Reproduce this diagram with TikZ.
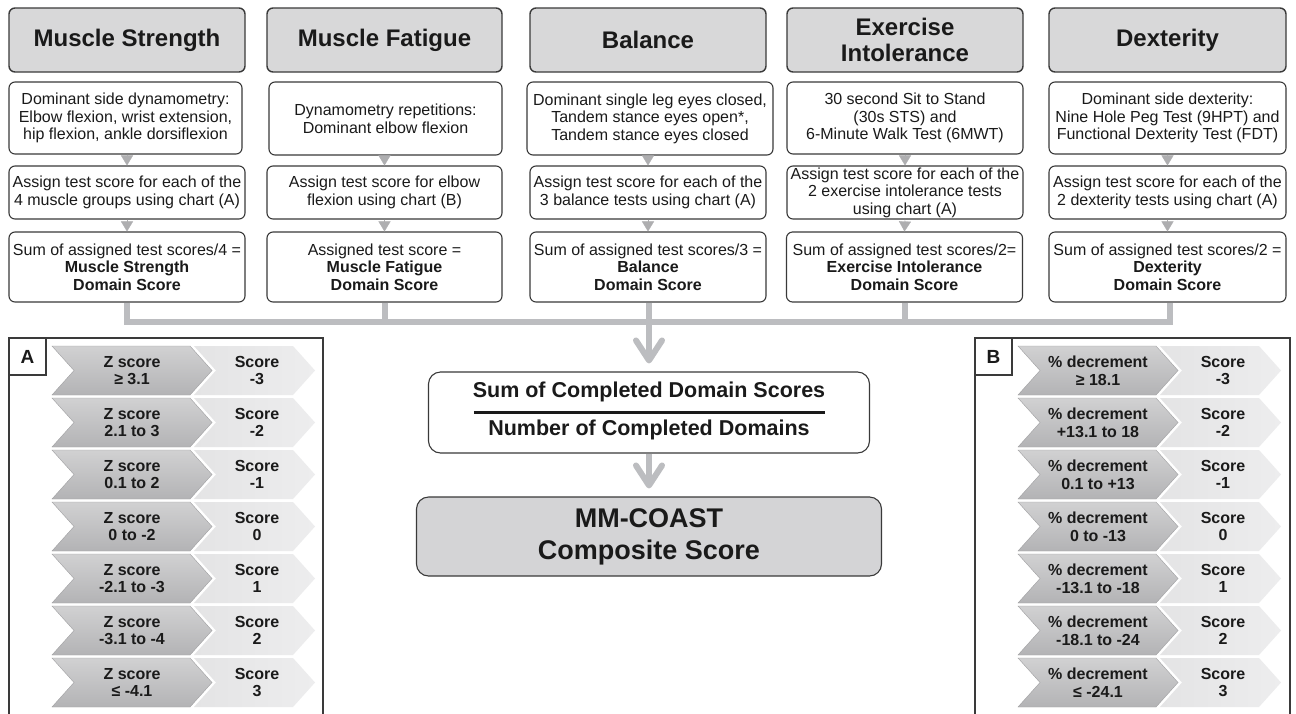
\documentclass[tikz,border=0pt]{standalone}
\usepackage{fontspec}
\setmainfont{Liberation Sans}
\usetikzlibrary{arrows.meta,calc}
\definecolor{bd}{HTML}{3A3A3A}
\definecolor{hfill}{HTML}{D8D8D9}
\definecolor{mmfill}{HTML}{D4D4D6}
\definecolor{connc}{HTML}{BCBDC0}
\definecolor{tric}{HTML}{AEAEB0}
\definecolor{txt}{HTML}{1A1A1A}
\definecolor{dkA}{HTML}{D1D1D2}
\definecolor{dkB}{HTML}{B3B3B5}
\definecolor{dkE}{HTML}{A0A0A2}
\definecolor{ltA}{HTML}{E4E4E5}
\definecolor{ltB}{HTML}{EDEDEE}
\newcommand\bodyf{\fontsize{16}{17.6}\selectfont}
\newcommand\hdrf{\fontsize{24}{26}\selectfont\bfseries}
\newcommand\chf{\fontsize{16}{17.6}\selectfont\bfseries}
\newcommand\chevrow[6]{%
  \path[left color=ltA, right color=ltB] (#1+142,#2) -- (#1+241,#2) -- (#1+263,#2+24.5) -- (#1+241,#2+49) -- (#1+142,#2+49) -- (#1+164,#2+24.5) -- cycle;
  \path[top color=dkA, bottom color=dkB, draw=dkE, line width=0.4pt] (#1,#2) -- (#1+138,#2) -- (#1+160,#2+24.5) -- (#1+138,#2+49) -- (#1,#2+49) -- (#1+22,#2+24.5) -- cycle;
  \node[chtxt] (#3z) at (#1+80,#2+24.5) {#4\\#5};
  \node[chtxt] (#3s) at (#1+205,#2+24.5) {Score\\#6};
}
\begin{document}
\begin{tikzpicture}[x=1pt,y=-1pt,
  hdr/.style={draw=bd, fill=hfill, rounded corners=6pt, line width=1.4pt, font=\hdrf, align=center, inner sep=0pt, text=txt, minimum height=64pt},
  box/.style={draw=bd, fill=white, rounded corners=6pt, line width=1.1pt, font=\bodyf, align=center, inner sep=0pt, text=txt},
  tricon/.style={draw=tric, line width=0.3pt, -{Triangle[length=10pt,width=12pt]}, fill=tric},
  conn/.style={draw=connc, line width=6pt, line join=miter},
  bigarr/.style={draw=connc, line width=6pt, -{Straight Barb[length=20pt,width=26pt,round]}, shorten >=8pt},
  chtxt/.style={font=\chf, align=center, inner sep=0pt, text=txt},
  sumtxt/.style={font=\fontsize{21.5}{24}\selectfont\bfseries, inner sep=0pt, text=txt},
  frame/.style={draw=bd, line width=1.1pt},
  labbox/.style={draw=bd, line width=1.1pt, fill=white, minimum width=37pt, minimum height=37pt, inner sep=0pt, font=\fontsize{19}{20}\selectfont\bfseries, text=txt}
]
\useasboundingbox (0,0) rectangle (1296,713);
\fill[white] (0,0) rectangle (1296,713);
% headers
\node[hdr, minimum width=236pt] (h1) at (127,40) {Muscle Strength};
\node[hdr, minimum width=235pt] (h2) at (384.5,40) {Muscle Fatigue};
\node[hdr, minimum width=236pt] (h3) at (648,40) {Balance};
\node[hdr, minimum width=236pt] (h4) at (905,40) {Exercise\\Intolerance};
\node[hdr, minimum width=237pt] (h5) at (1167.5,40) {Dexterity};
% descriptions
\node[box, minimum width=233pt, minimum height=72pt] (d1) at (125.5,118) {Dominant side dynamometry:\\Elbow flexion, wrist extension,\\hip flexion, ankle dorsiflexion};
\node[box, minimum width=233pt, minimum height=73pt] (d2) at (385.5,118.5) {Dynamometry repetitions:\\Dominant elbow flexion};
\node[box, minimum width=246pt, minimum height=73pt] (d3) at (650,118.5) {Dominant single leg eyes closed,\\Tandem stance eyes open*,\\Tandem stance eyes closed};
\node[box, minimum width=236pt, minimum height=72pt] (d4) at (905,118) {30 second Sit to Stand\\(30s STS) and\\6-Minute Walk Test (6MWT)};
\node[box, minimum width=237pt, minimum height=72pt] (d5) at (1167.5,118) {Dominant side dexterity:\\Nine Hole Peg Test (9HPT) and\\Functional Dexterity Test (FDT)};
% assign
\node[box, minimum width=236pt, minimum height=53pt] (a1) at (127,192.5) {Assign test score for each of the\\4 muscle groups using chart (A)};
\node[box, minimum width=235pt, minimum height=53pt] (a2) at (384.5,192.5) {Assign test score for elbow\\flexion using chart (B)};
\node[box, minimum width=236pt, minimum height=53pt] (a3) at (648,192.5) {Assign test score for each of the\\3 balance tests using chart (A)};
\node[box, minimum width=236pt, minimum height=53pt] (a4) at (905,192.5) {Assign test score for each of the\\2 exercise intolerance tests\\using chart (A)};
\node[box, minimum width=237pt, minimum height=53pt] (a5) at (1167.5,192.5) {Assign test score for each of the\\2 dexterity tests using chart (A)};
% sums
\node[box, minimum width=236pt, minimum height=70pt] (s1) at (127,267) {Sum of assigned test scores/4 =\\\textbf{Muscle Strength}\\\textbf{Domain Score}};
\node[box, minimum width=235pt, minimum height=70pt] (s2) at (384.5,267) {Assigned test score =\\\textbf{Muscle Fatigue}\\\textbf{Domain Score}};
\node[box, minimum width=236pt, minimum height=70pt] (s3) at (648,267) {Sum of assigned test scores/3 =\\\textbf{Balance}\\\textbf{Domain Score}};
\node[box, minimum width=236pt, minimum height=70pt] (s4) at (904.5,267) {Sum of assigned test scores/2=\\\textbf{Exercise Intolerance}\\\textbf{Domain Score}};
\node[box, minimum width=237pt, minimum height=70pt] (s5) at (1167.5,267) {Sum of assigned test scores/2 =\\\textbf{Dexterity}\\\textbf{Domain Score}};
% small triangles
\foreach \i in {1,...,5}{
  \draw[tricon] (d\i.south -| a\i.north) -- (a\i.north);
  \draw[tricon] (a\i.south) -- (s\i.north);
}
% bus
\path (0,322) coordinate (bus0);
\coordinate (busL) at (s1.south |- bus0);
\coordinate (busR) at ($(s5.south |- bus0)+(2.5,0)$);
\draw[conn] (s1.south) -- (busL) -- (busR) -- (busR |- s5.south);
\draw[conn] (s2.south) -- (s2.south |- bus0);
\draw[conn] (s4.south) -- (s4.south |- bus0);
% center
\node[box, rounded corners=12pt, minimum width=441pt, minimum height=81pt] (sum) at (649,412.5) {};
\node[sumtxt, anchor=base] (sumtop) at (649,397) {Sum of Completed Domain Scores};
\node[sumtxt, anchor=base] (sumbot) at (649,435) {Number of Completed Domains};
\draw[draw=txt, line width=3pt] ($(sum.west)+(46,0)$) -- ($(sum.east)+(-45,0)$);
\node[box, fill=mmfill, rounded corners=12pt, minimum width=465pt, minimum height=79pt, font=\fontsize{27}{32}\selectfont\bfseries] (mm) at (649,536.5) {MM-COAST\\Composite Score};
\draw[bigarr] (s3.south -| sum.north) -- (sum.north);
\draw[bigarr] (sum.south) -- (mm.north);
% chart A
\draw[frame] (9,718) -- (9,338) -- (323,338) -- (323,718);
\node[labbox] (labA) at (27.5,356.5) {A};
\chevrow{52}{346}{A1}{Z score}{≥ 3.1}{-3}
\chevrow{52}{398}{A2}{Z score}{2.1 to 3}{-2}
\chevrow{52}{450}{A3}{Z score}{0.1 to 2}{-1}
\chevrow{52}{502}{A4}{Z score}{0 to -2}{0}
\chevrow{52}{554}{A5}{Z score}{-2.1 to -3}{1}
\chevrow{52}{606}{A6}{Z score}{-3.1 to -4}{2}
\chevrow{52}{658}{A7}{Z score}{≤ -4.1}{3}
% chart B
\draw[frame] (975,718) -- (975,338) -- (1290,338) -- (1290,718);
\node[labbox] (labB) at (993.5,356.5) {B};
\chevrow{1018}{346}{B1}{\% decrement}{≥ 18.1}{-3}
\chevrow{1018}{398}{B2}{\% decrement}{+13.1 to 18}{-2}
\chevrow{1018}{450}{B3}{\% decrement}{0.1 to +13}{-1}
\chevrow{1018}{502}{B4}{\% decrement}{0 to -13}{0}
\chevrow{1018}{554}{B5}{\% decrement}{-13.1 to -18}{1}
\chevrow{1018}{606}{B6}{\% decrement}{-18.1 to -24}{2}
\chevrow{1018}{658}{B7}{\% decrement}{≤ -24.1}{3}
\end{tikzpicture}
\end{document}
